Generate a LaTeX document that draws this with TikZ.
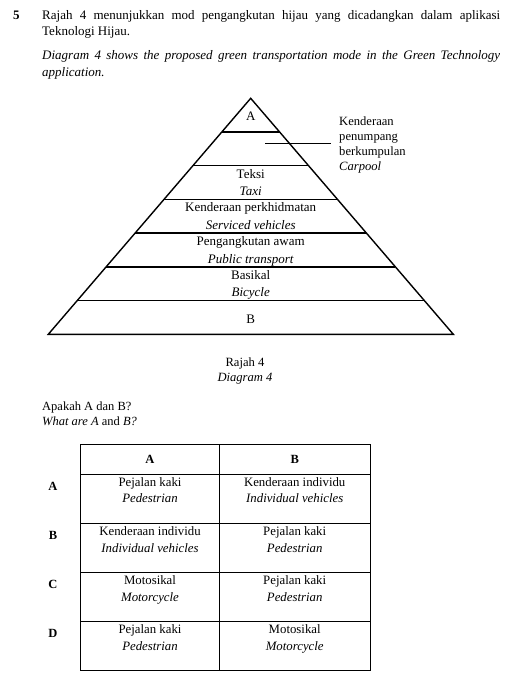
\documentclass[tikz,border=0pt]{standalone}
\usepackage{fontspec}
\setmainfont{Liberation Serif}
\usetikzlibrary{calc}
\begin{document}
\begin{tikzpicture}[x=1pt,y=-1pt,
  body/.style={inner sep=0pt,font=\fontsize{13}{15}\selectfont,anchor=base west},
  pyr/.style={line width=1.4pt,line join=miter},
  band/.style={inner sep=0pt,font=\fontsize{13}{15}\selectfont,anchor=base},
  cell/.style={inner sep=0pt,font=\fontsize{12.8}{16.5}\selectfont,align=center,anchor=base},
  tline/.style={line width=0.8pt},
  lbl/.style={inner sep=0pt,font=\bfseries\fontsize{12.5}{14}\selectfont,anchor=base}]
\useasboundingbox (0,0) rectangle (516,684);
% header text
\node[body,font=\bfseries\fontsize{13}{15}\selectfont] (qn) at (13,19.5) {5};
\node[body] (p1a) at (42,19.5) {\makebox[458pt][s]{Rajah 4 menunjukkan mod pengangkutan hijau yang dicadangkan dalam aplikasi}};
\node[body] (p1b) at (42,36) {Teknologi Hijau.};
\node[body] (p2a) at (42,60) {\makebox[458pt][s]{\itshape Diagram 4 shows the proposed green transportation mode in the Green Technology}};
\node[body] (p2b) at (42,77) {\itshape application.};
% pyramid
\coordinate (apex) at (250.7,98.3);
\coordinate (bl) at (48.3,334.3);
\coordinate (br) at (453.3,334.3);
\draw[pyr] (apex) -- (bl) -- (br) -- cycle;
\foreach \k in {1,...,6}{
  \draw[pyr] ($(apex)!\k/7!(bl)$) -- ($(apex)!\k/7!(br)$);
}
\node[band] (tA) at (250.7,121) {A};
\node[band] (t3a) at (250.7,178.3) {Teksi};
\node[band] (t3b) at (250.7,195.7) {\itshape Taxi};
\node[band] (t4a) at (250.7,212) {Kenderaan perkhidmatan};
\node[band] (t4b) at (250.7,229.4) {\itshape Serviced vehicles};
\node[band] (t5a) at (250.7,245.7) {Pengangkutan awam};
\node[band] (t5b) at (250.7,263.1) {\itshape Public transport};
\node[band] (t6a) at (250.7,279.5) {Basikal};
\node[band] (t6b) at (250.7,296.9) {\itshape Bicycle};
\node[band] (tB) at (250.7,323.5) {B};
% carpool label
\node[inner sep=0pt,font=\fontsize{12.6}{15}\selectfont,align=left,anchor=north west] (carpool) at (339,117) {Kenderaan\\penumpang\\berkumpulan\\\itshape Carpool};
\coordinate (cpL) at (265,143);
\coordinate (cpR) at (330.5,143);
\draw[line width=0.9pt] (cpL) -- (cpR);
% caption
\node[band,font=\fontsize{12.6}{14}\selectfont] (cap1) at (245,366) {Rajah 4};
\node[band,font=\fontsize{12.6}{14}\selectfont] (cap2) at (245,381) {\itshape Diagram 4};
% question
\node[body,font=\fontsize{12.5}{14}\selectfont] (q1) at (42,410) {Apakah A dan B?};
\node[body,font=\fontsize{12.5}{14}\selectfont] (q2) at (42,425.5) {\itshape What are A \textup{and} B?};
% table
\draw[tline] (80.7,444) rectangle (370,670);
\draw[tline] (219.3,444) -- (219.3,670);
\foreach \yy in {474.3,523.5,572.5,621.5}{\draw[tline] (80.7,\yy) -- (370,\yy);}
\node[lbl] (hA) at (150,463.5) {A};
\node[lbl] (hB) at (294.7,463.5) {B};
\node[lbl] (rA) at (53,490) {A};
\node[lbl] (rB) at (53,539) {B};
\node[lbl] (rC) at (53,588) {C};
\node[lbl] (rD) at (53,637) {D};
\node[cell] (a1) at (150,502.5) {Pejalan kaki\\\itshape Pedestrian};
\node[cell] (b1) at (294.7,502.5) {Kenderaan individu\\\itshape Individual vehicles};
\node[cell] (a2) at (150,552) {Kenderaan individu\\\itshape Individual vehicles};
\node[cell] (b2) at (294.7,552) {Pejalan kaki\\\itshape Pedestrian};
\node[cell] (a3) at (150,601) {Motosikal\\\itshape Motorcycle};
\node[cell] (b3) at (294.7,601) {Pejalan kaki\\\itshape Pedestrian};
\node[cell] (a4) at (150,650) {Pejalan kaki\\\itshape Pedestrian};
\node[cell] (b4) at (294.7,650) {Motosikal\\\itshape Motorcycle};
\end{tikzpicture}
\end{document}
